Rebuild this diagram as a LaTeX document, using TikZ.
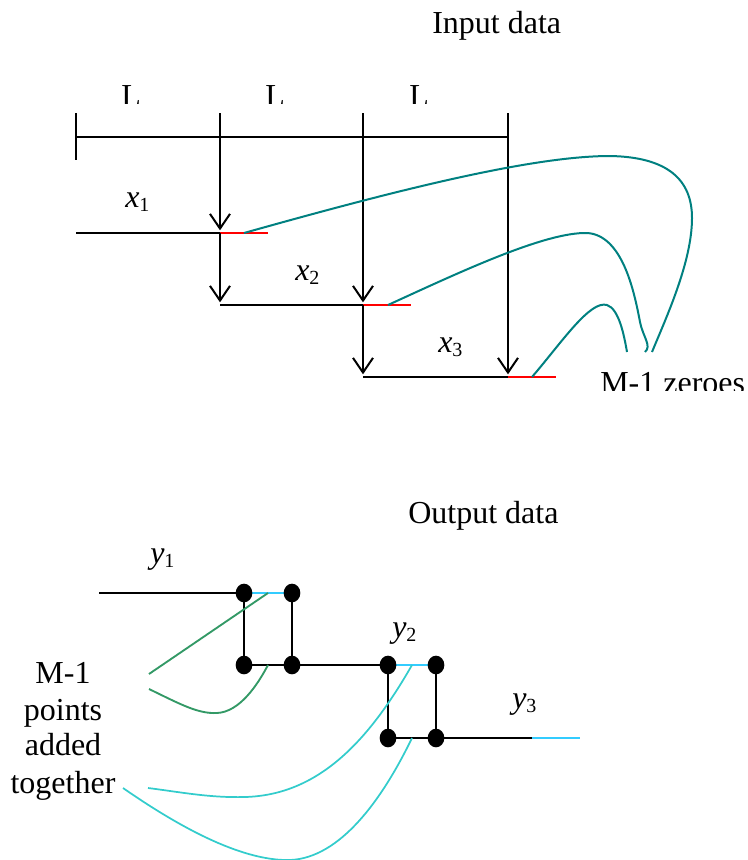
\documentclass[tikz,border=0pt]{standalone}
\usepackage{fontspec}
\setmainfont{Liberation Serif}
\usetikzlibrary{arrows.meta,shapes.geometric}
\definecolor{tealc}{HTML}{008080}
\definecolor{redc}{HTML}{FF0000}
\definecolor{greenc}{HTML}{339966}
\definecolor{turq}{HTML}{33CCCC}
\definecolor{skyc}{HTML}{33CCFF}
\newcommand\sublab[2]{\textit{#1}\raisebox{-3.5pt}{\fontsize{15}{15}\selectfont #2}}
\begin{document}
\begin{tikzpicture}[x=0.75pt,y=-0.75pt,
  blk/.style={line width=1.5pt, black},
  redl/.style={line width=1.5pt, redc},
  tl/.style={line width=1.5pt, tealc},
  gl/.style={line width=1.4pt, greenc},
  cl/.style={line width=1.3pt, turq},
  sk/.style={line width=1.5pt, skyc},
  arr/.style={blk, -{Straight Barb[length=11pt,width=15pt,line width=1.5pt]}},
  lbl/.style={font=\fontsize{24}{27.5}\selectfont, inner sep=0pt, anchor=base west},
  clbl/.style={font=\fontsize{24}{27.5}\selectfont, inner sep=0pt, anchor=base},
  dot/.style={ellipse, fill=black, minimum width=12.5pt, minimum height=14pt, inner sep=0pt}
]
\useasboundingbox (0,0) rectangle (747,860);

% ---------- Input data ----------
\node[lbl] (inp) at (432,33) {Input data};

\begin{scope}
  \clip (0,0) rectangle (747,103);
  \node[lbl] (L1) at (121,106.5) {L};
  \node[lbl] (L2) at (265,106.5) {L};
  \node[lbl] (L3) at (409,106.5) {L};
\end{scope}

\coordinate (t0) at (76,113);
\coordinate (b0) at (76,160);
\coordinate (h0) at (76,137);
\coordinate (t1) at (220,113);
\coordinate (t2) at (363,113);
\coordinate (t3) at (508,113);
\coordinate (h3) at (508,137);

\coordinate (x1s) at (76,233);
\coordinate (a1) at (220,233);
\coordinate (x1r) at (268,233);
\coordinate (b1) at (220,305);
\coordinate (a2) at (363,305);
\coordinate (x2r) at (411,305);
\coordinate (b2) at (363,377);
\coordinate (a3) at (508,377);
\coordinate (x3r) at (556,377);

\draw[blk] (t0) -- (b0);
\draw[blk] (h0) -- (h3);

\draw[blk] (x1s) -- (a1);
\draw[redl] (a1) -- (x1r);
\draw[blk] (b1) -- (a2);
\draw[redl] (a2) -- (x2r);
\draw[blk] (b2) -- (a3);
\draw[redl] (a3) -- (x3r);

\draw[arr] (t1) -- ([yshift=2pt]a1);
\draw[arr] (a1) -- ([yshift=2pt]b1);
\draw[arr] (t2) -- ([yshift=2pt]a2);
\draw[arr] (a2) -- ([yshift=2pt]b2);
\draw[arr] (t3) -- ([yshift=2pt]a3);

\node[lbl] (xl1) at (125,207) {\sublab{x}{1}};
\node[lbl] (xl2) at (295,280) {\sublab{x}{2}};
\node[lbl] (xl3) at (438,352) {\sublab{x}{3}};

\begin{scope}
  \clip (0,0) rectangle (747,390);
  \node[lbl] (zz) at (600,393) {M-1 zeroes};
\end{scope}

\coordinate (c1) at (244,233);
\coordinate (c2) at (388,305);
\coordinate (c3) at (532,377);
\coordinate (e1) at (652,352);
\coordinate (e2) at (645,352);
\coordinate (e3) at (627,352);

\draw[tl] (c1) .. controls (390,192) and (530,156) .. (610,156)
               .. controls (668,157) and (692,180) .. (692,218)
               .. controls (692,262) and (666,318) .. (e1);
\draw[tl] (c2) .. controls (460,272) and (545,232) .. (587,233)
               .. controls (622,235) and (634,290) .. (640,322)
               .. controls (643,337) and (652,346) .. (e2);
\draw[tl] (c3) .. controls (562,342) and (590,300) .. (607,305)
               .. controls (619,309) and (624,335) .. (e3);

% ---------- Output data ----------
\node[lbl] (outp) at (408,523) {Output data};

\coordinate (y1s) at (99,593);
\coordinate (d1) at (244,593);
\coordinate (d2) at (292,593);
\coordinate (d3) at (244,665);
\coordinate (d4) at (292,665);
\coordinate (d5) at (388,665);
\coordinate (d6) at (436,665);
\coordinate (d7) at (388,738);
\coordinate (d8) at (436,738);
\coordinate (y3m) at (532,738);
\coordinate (y3e) at (580,738);

\draw[blk] (y1s) -- (d1);
\draw[sk] (d1) -- (d2);
\draw[blk] (d1) -- (d3);
\draw[blk] (d2) -- (d4);
\draw[blk] (d3) -- (d4) -- (d5);
\draw[sk] (d5) -- (d6);
\draw[blk] (d5) -- (d7);
\draw[blk] (d6) -- (d8);
\draw[blk] (d7) -- (d8) -- (y3m);
\draw[sk] (y3m) -- (y3e);

\node[lbl] (yl1) at (150,563) {\sublab{y}{1}};
\node[lbl] (yl2) at (392,637) {\sublab{y}{2}};
\node[lbl] (yl3) at (512,708) {\sublab{y}{3}};

\node[clbl] (m1) at (63,683) {M-1};
\node[clbl] (m2) at (63,720) {points};
\node[clbl] (m3) at (63,755) {added};
\node[clbl] (m4) at (63,793) {together};

\coordinate (g1s) at (149,674);
\coordinate (g1e) at (268,593);
\coordinate (g2s) at (149,689);
\coordinate (g2e) at (268,665);
\coordinate (k1s) at (148,788);
\coordinate (k1e) at (412,665);
\coordinate (k2s) at (123,788);
\coordinate (k2e) at (412,738);

\draw[gl] (g1s) -- (g1e);
\draw[gl] (g2s) .. controls (180,704) and (198,714) .. (217,713)
                .. controls (240,712) and (258,684) .. (g2e);
\draw[cl] (k1s) .. controls (180,792) and (210,798) .. (245,797)
                .. controls (318,795) and (368,742) .. (k1e);
\draw[cl] (k2s) .. controls (195,838) and (250,861) .. (290,860)
                .. controls (340,858) and (382,800) .. (k2e);

\foreach \d in {d1,d2,d3,d4,d5,d6,d7,d8}
  \node[dot] (n\d) at (\d) {};
\end{tikzpicture}
\end{document}
